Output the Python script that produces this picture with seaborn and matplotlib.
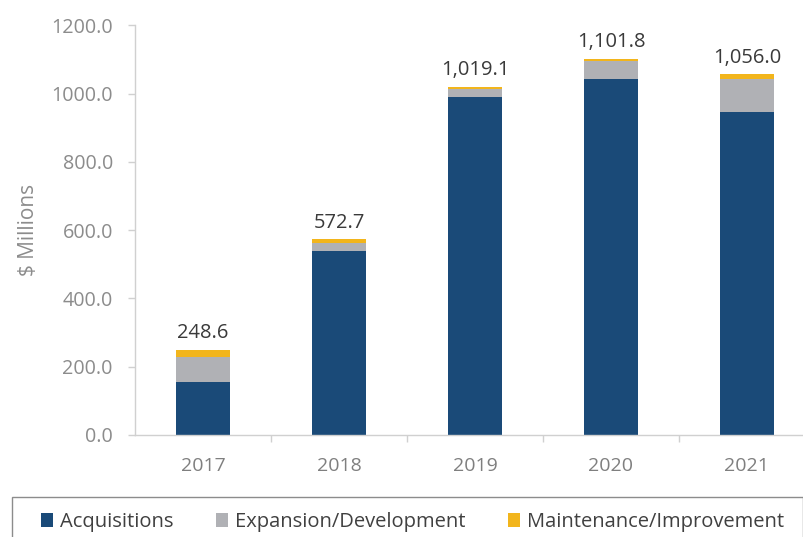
import matplotlib
matplotlib.use("Agg")
import matplotlib.pyplot as plt
import seaborn as sns
import numpy as np
from matplotlib.patches import Patch, Rectangle
from matplotlib.ticker import FixedLocator

# data ($ millions)
years = ["2017", "2018", "2019", "2020", "2021"]
acquisitions = [155.0, 540.0, 990.0, 1042.0, 945.0]
expansion = [73.0, 23.0, 24.0, 54.0, 99.0]
maintenance = [20.6, 9.7, 5.1, 5.8, 12.0]
totals = [248.6, 572.7, 1019.1, 1101.8, 1056.0]

series_names = ["Acquisitions", "Expansion/Development", "Maintenance/Improvement"]
colors = ["#1a4a78", "#b0b1b5", "#f2b51c"]

sns.set_theme(style="white")
plt.rcParams["font.family"] = ["Open Sans", "DejaVu Sans"]

fig = plt.figure(figsize=(8.04, 5.37), dpi=100)
ax = fig.add_axes([0.168, 0.19, 0.832, 0.763])

bottom = np.zeros(len(years))
for vals, col in zip([acquisitions, expansion, maintenance], colors):
    sns.barplot(x=years, y=vals, bottom=bottom, color=col, width=0.4,
                saturation=1, ax=ax, edgecolor="none")
    bottom = bottom + np.array(vals)

# total labels above bars
for i, t in enumerate(totals):
    ax.text(i, bottom[i] + 20, f"{t:,.1f}", ha="center", va="bottom",
            fontsize=14.5, color="#3a3a3a")

ax.set_xlim(-0.5, 4.42)
ax.set_ylim(0, 1200)
ax.set_yticks(np.arange(0, 1201, 200))
ax.set_yticklabels([f"{v:.1f}" for v in np.arange(0, 1201, 200)])
ax.set_ylabel("$ Millions", fontsize=15, color="#8c8c8c", labelpad=9)
ax.set_xlabel("")

for s in ["top", "right"]:
    ax.spines[s].set_visible(False)
for s in ["left", "bottom"]:
    ax.spines[s].set_color("#d0d0d0")
    ax.spines[s].set_linewidth(1)

ax.tick_params(axis="y", which="major", length=5, width=1, color="#d0d0d0",
               pad=11, labelsize=14.2, labelcolor="#8c8c8c", left=True)
ax.tick_params(axis="x", which="major", length=0, pad=16,
               labelsize=14, labelcolor="#7f7f7f")
ax.xaxis.set_minor_locator(FixedLocator([0.5, 1.5, 2.5, 3.5]))
ax.tick_params(axis="x", which="minor", length=5, width=1, color="#d0d0d0",
               bottom=True)

# legend box spans nearly the full width and runs off the bottom edge
fig.patches.append(Rectangle((12 / 804, -0.02), 791 / 804, 0.094,
                             transform=fig.transFigure, facecolor="none",
                             edgecolor="#8c8c8c", linewidth=1))
handles = [Patch(facecolor=c, edgecolor="none") for c in colors]
leg = fig.legend(handles, series_names, loc="center", ncol=3,
                 bbox_to_anchor=(0.513, 0.028), frameon=False,
                 fontsize=14.5, handlelength=0.6, handleheight=0.65,
                 handletextpad=0.35, columnspacing=2.1)
for t in leg.get_texts():
    t.set_color("#404040")

fig.savefig("out.png", dpi=100)
